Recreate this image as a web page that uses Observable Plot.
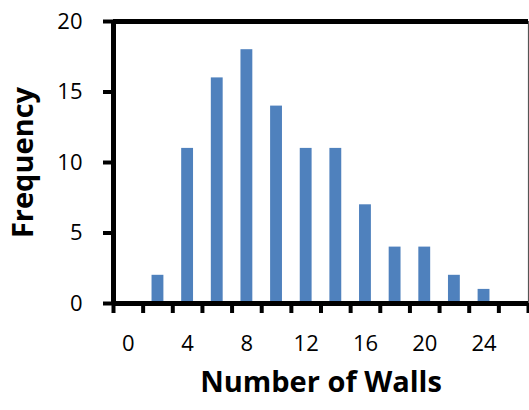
<!DOCTYPE html>
<html>
<head>
<meta charset="utf-8">
<script src="https://cdn.jsdelivr.net/npm/d3@7"></script>
<script src="https://cdn.jsdelivr.net/npm/@observablehq/plot@0.6"></script>
<style>
  html, body { margin: 0; padding: 0; background: #fff; }
  svg { display: block; }
</style>
</head>
<body>
<div id="chart"></div>
<script>
const walls = [0, 2, 4, 6, 8, 10, 12, 14, 16, 18, 20, 22, 24, 26];
const frequency = [0, 2, 11, 16, 18, 14, 11, 11, 7, 4, 4, 2, 1, 0];
const xTickLabels = [0, 4, 8, 12, 16, 20, 24];
const xTickMarks = [-1, 1, 3, 5, 7, 9, 11, 13, 15, 17, 19, 21, 23, 25, 27];
const yTicks = [0, 5, 10, 15, 20];
const xTitle = "Number of Walls";
const yTitle = "Frequency";

const data = walls.map((w, i) => ({walls: w, freq: frequency[i]}));
const font = "'Open Sans', Lato, sans-serif";
const halfBar = 0.4;

const chart = Plot.plot({
  width: 529,
  height: 410,
  marginLeft: 113,
  marginRight: 1,
  marginTop: 21,
  marginBottom: 107,
  style: {fontFamily: font, background: "#fff", color: "#000"},
  x: {type: "linear", domain: [-1, 27]},
  y: {domain: [0, 20]},
  marks: [
    Plot.rectY(data, {x1: d => d.walls - halfBar, x2: d => d.walls + halfBar, y: "freq", fill: "#4F81BD"}),
    Plot.ruleX([27], {stroke: "#555", strokeWidth: 1.2}),
    Plot.ruleY([20], {stroke: "#000", strokeWidth: 5}),
    Plot.ruleY([0], {stroke: "#000", strokeWidth: 5}),
    Plot.ruleX([-1], {stroke: "#000", strokeWidth: 5}),
    Plot.axisX({ticks: xTickMarks, tickSize: 10, strokeWidth: 4, tickFormat: () => "", label: null}),
    Plot.axisX({ticks: xTickLabels, tickSize: 0, tickPadding: 32, fontSize: 22, label: null}),
    Plot.axisY({ticks: yTicks, tickSize: 10, strokeWidth: 4, tickPadding: 21, fontSize: 22, label: null}),
    Plot.text([yTitle], {frameAnchor: "left", dx: -90, rotate: -90, fontSize: 29, fontWeight: "bold", textAnchor: "middle"}),
    Plot.text([xTitle], {frameAnchor: "bottom", dy: 88, fontSize: 29, fontWeight: "bold", textAnchor: "middle"})
  ]
});
document.getElementById("chart").appendChild(chart);
</script>
</body>
</html>
